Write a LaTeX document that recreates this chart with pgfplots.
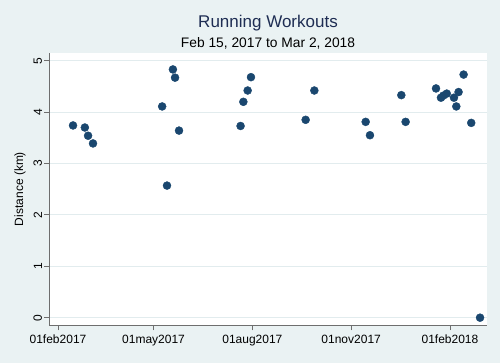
\documentclass[border=0pt]{standalone}
\usepackage{pgfplots}
\pgfplotsset{compat=1.18}
\usepackage{fontspec}
\setmainfont{Liberation Sans}
\definecolor{bgc}{RGB}{234,242,243}
\definecolor{gridc}{RGB}{226,236,238}
\definecolor{mk}{RGB}{26,71,111}
\definecolor{ttl}{RGB}{30,45,83}
\definecolor{axc}{RGB}{110,110,110}
\begin{document}
\begin{tikzpicture}[x=1pt,y=1pt]
\fill[bgc] (0,0) rectangle (500,363);
\useasboundingbox (0,0) rectangle (500,363);
\begin{axis}[
  at={(49.3pt,37.5pt)}, anchor=south west,
  scale only axis, width=437.4pt, height=272.5pt,
  xmin=-8.1, xmax=399.2, ymin=-0.152, ymax=5.15,
  axis background/.style={fill=white},
  axis x line*=bottom, axis y line*=left,
  axis line style={axc, line width=0.9pt},
  xtick={0,89,181,273,365},
  xticklabels={01feb2017,01may2017,01aug2017,01nov2017,01feb2018},
  ytick={0,1,2,3,4,5},
  tick align=outside, major tick length=5pt,
  tick style={axc, line width=0.8pt},
  ymajorgrids, grid style={gridc, line width=1pt},
  /pgf/number format/assume math mode=true,
  ticklabel style={font=\fontsize{12}{14}\selectfont, black},
  yticklabel style={rotate=90, anchor=south, inner sep=2pt},
  xticklabel style={inner sep=2pt, yshift=-2pt},
  clip=false,
]
\addplot[only marks, mark=*, mark size=4pt, mark options={fill=mk, draw=mk}] coordinates {
(14,3.74) (25,3.70) (28,3.54) (32.6,3.39)
(97,4.11) (101.5,2.57) (107,4.83) (109,4.67) (112.7,3.64)
(170,3.73) (172.6,4.20) (176.6,4.42) (179.7,4.68)
(230.6,3.85) (238.7,4.42)
(286.5,3.81) (290.5,3.55)
(319.7,4.33) (323.7,3.81)
(352,4.46) (356.6,4.28) (358.8,4.32) (362,4.36) (368.7,4.28) (373,4.39) (370.9,4.11) (377.7,4.73)
(384.8,3.79) (393,0.0)
};
\end{axis}
\node[ttl, font=\fontsize{17}{20}\selectfont] at (268,340) {Running Workouts};
\node[black, font=\fontsize{13.8}{16}\selectfont] at (268,320) {Feb 15, 2017 to Mar 2, 2018};
\node[rotate=90, font=\fontsize{12}{14}\selectfont] at (20,174) {Distance (km)};
\end{tikzpicture}
\end{document}
